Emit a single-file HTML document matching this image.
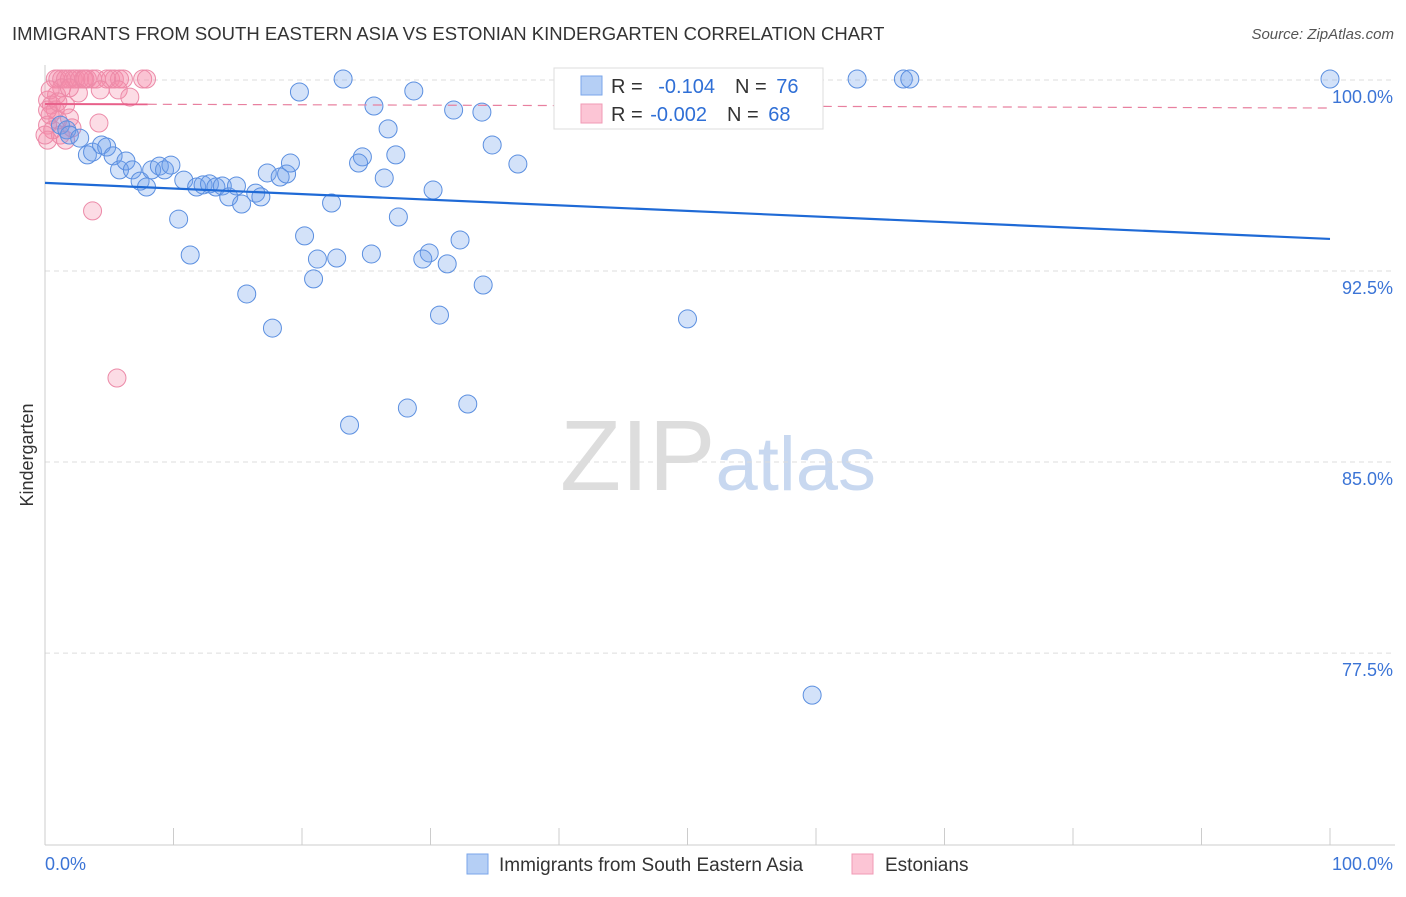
<!DOCTYPE html>
<html><head><meta charset="utf-8"><style>
body{margin:0;background:#fff;font-family:"Liberation Sans",sans-serif;}
svg text{font-family:"Liberation Sans",sans-serif;}
</style></head><body>
<svg id="c" width="1406" height="892">
<text x="12" y="40" font-size="18.5" fill="#333">IMMIGRANTS FROM SOUTH EASTERN ASIA VS ESTONIAN KINDERGARTEN CORRELATION CHART</text>
<text x="1394" y="39" font-size="15" fill="#555" text-anchor="end" font-style="italic">Source: ZipAtlas.com</text>
<text x="718" y="490" font-size="100" fill="#ddd" text-anchor="middle" font-family="Liberation Serif">ZIP<tspan fill="#c8d8f0" font-family="Liberation Sans" font-size="76">atlas</tspan></text>
<text transform="translate(33,455) rotate(-90)" font-size="18" fill="#333" text-anchor="middle">Kindergarten</text>
<g id="grid"></g><g id="marks"></g>
<g>
<rect x="554" y="68" width="269" height="61" fill="#fff" stroke="#ddd"/>
<rect x="581" y="76" width="21" height="19" fill="#b5cff5" stroke="#7aa6ea"/>
<rect x="581" y="104" width="21" height="19" fill="#fcc5d5" stroke="#f09ab5"/>
<text x="611" y="93" font-size="20" fill="#333">R = <tspan fill="#2f6fd6" dx="10">-0.104</tspan><tspan fill="#333" dx="20">N = </tspan><tspan fill="#2f6fd6" dx="4">76</tspan></text>
<text x="611" y="121" font-size="20" fill="#333">R = <tspan fill="#2f6fd6" dx="2">-0.002</tspan><tspan fill="#333" dx="20">N = </tspan><tspan fill="#2f6fd6" dx="4">68</tspan></text>
</g>
<g>
<rect x="467" y="854" width="21" height="20" fill="#b5cff5" stroke="#7aa6ea"/>
<text x="499" y="871" font-size="19" fill="#333">Immigrants from South Eastern Asia</text>
<rect x="852" y="854" width="21" height="20" fill="#fcc5d5" stroke="#f09ab5"/>
<text x="885" y="871" font-size="19" fill="#333">Estonians</text>
</g>
</svg>
<script>
const yTicks=[100,92.5,85,77.5];
const yTickLabels=["100.0%","92.5%","85.0%","77.5%"];
const blueX=[23.2,19.8,28.7,25.6,31.8,34.0,26.7,34.8,36.8,27.3,24.7,24.4,26.4,30.2,22.3,27.5,20.2,32.3,29.9,25.4,22.7,21.2,29.4,31.3,20.9,34.1,15.7,17.7,30.7,50.0,28.2,32.9,23.7,59.7,63.2,66.8,67.3,100,43.2,1.2,1.7,1.9,2.7,3.3,3.7,4.4,4.8,5.3,5.8,6.3,6.8,7.4,7.9,8.3,8.9,9.3,9.8,10.4,10.8,11.3,11.8,12.3,12.8,13.3,13.8,14.3,14.9,15.3,16.4,16.8,17.3,18.3,18.8,19.1];
const blueY=[100.04,99.53,99.57,98.98,98.82,98.74,98.08,97.45,96.70,97.06,96.98,96.74,96.15,95.68,95.17,94.62,93.88,93.72,93.21,93.17,93.01,92.97,92.97,92.78,92.19,91.95,91.60,90.26,90.77,90.62,87.12,87.28,86.45,75.85,100.04,100.04,100.04,100.04,100.0,98.23,98.04,97.84,97.72,97.06,97.17,97.45,97.37,97.02,96.47,96.82,96.47,96.03,95.80,96.47,96.62,96.47,96.66,94.54,96.07,93.13,95.80,95.88,95.92,95.80,95.84,95.41,95.84,95.13,95.56,95.41,96.35,96.19,96.31,96.74];
const pinkX=[0.8,1.0,1.3,1.6,1.9,2.2,2.4,2.7,3.0,3.3,3.7,4.0,5.1,5.4,5.8,6.1,7.6,7.9,3.1,4.8,4.3,5.7,6.6,0.2,0.5,0.8,0.4,1.0,0.2,0.6,1.2,0.2,1.6,1.9,2.1,0.9,1.3,0.4,0,0.2,1.6,1.0,2.6,1.9,4.2,3.7,5.6];
const pinkY=[100.04,100.04,100.04,100.04,100.04,100.04,100.04,100.04,100.04,100.04,100.04,100.04,100.04,100.04,100.04,100.04,100.04,100.04,100.04,100.04,99.61,99.61,99.33,99.21,99.02,98.82,98.63,98.43,98.23,98.04,97.84,97.64,97.64,98.51,98.12,99.41,99.69,99.61,97.84,98.82,99.02,99.14,99.49,99.69,98.31,94.86,88.3];
const blueTrend=[95.96,93.76];
const pinkTrend=[99.06,98.9];
const NS='http://www.w3.org/2000/svg';
function sx(v){return 45+v*12.85;}
function sy(v){return 80+(100-v)*25.47;}
function mk(t,a,p){const e=document.createElementNS(NS,t);for(const k in a)e.setAttribute(k,a[k]);p.appendChild(e);return e;}
const g=document.getElementById('grid'),m=document.getElementById('marks');
yTicks.forEach((t,i)=>{
 const l=mk('line',{x1:45,x2:1395,y1:sy(t),y2:sy(t),stroke:'#ddd','stroke-dasharray':'5,4'},g);
 
 
 const tx=mk('text',{x:1393,y:sy(t)+23,'font-size':18,fill:'#3b74d6','text-anchor':'end'},g);
 tx.textContent=yTickLabels[i];
 
 
});
const ax=mk('line',{x1:45,x2:1395,y1:845,y2:845,stroke:'#ccc'},g);


const ay=mk('line',{x1:45,x2:45,y1:65,y2:845,stroke:'#ccc'},g);


for(let i=0;i<=10;i++){
 const tk=mk('line',{x1:sx(i*10),x2:sx(i*10),y1:828,y2:845,stroke:'#ccc'},g);
 
 
}
const x0=mk('text',{x:45,y:870,'font-size':18,fill:'#3b74d6'},g);x0.textContent='0.0%';


const x1=mk('text',{x:1393,y:870,'font-size':18,fill:'#3b74d6','text-anchor':'end'},g);x1.textContent='100.0%';


pinkX.forEach((v,i)=>{
 const c=mk('circle',{cx:sx(v),cy:sy(pinkY[i]),r:9,fill:'rgba(244,140,170,0.3)',stroke:'#ec8aa8','stroke-width':1},m);
 
 
});
blueX.forEach((v,i)=>{
 const c=mk('circle',{cx:sx(v),cy:sy(blueY[i]),r:9,fill:'rgba(110,160,235,0.3)',stroke:'#5b8fe0','stroke-width':1},m);
 
 
});
const bt=mk('line',{x1:sx(0),x2:sx(100),y1:sy(blueTrend[0]),y2:sy(blueTrend[1]),stroke:'#1f6ad6','stroke-width':2.2},m);


const ps=mk('line',{x1:sx(0),x2:sx(8),y1:sy(pinkTrend[0]),y2:sy(pinkTrend[0]-(pinkTrend[0]-pinkTrend[1])*0.08),stroke:'#e8608a','stroke-width':2},m);


const pd=mk('line',{x1:sx(8),x2:sx(100),y1:sy(pinkTrend[0]-(pinkTrend[0]-pinkTrend[1])*0.08),y2:sy(pinkTrend[1]),stroke:'#e8809f','stroke-width':1.2,'stroke-dasharray':'9,6'},m);


</script>
</body></html>
